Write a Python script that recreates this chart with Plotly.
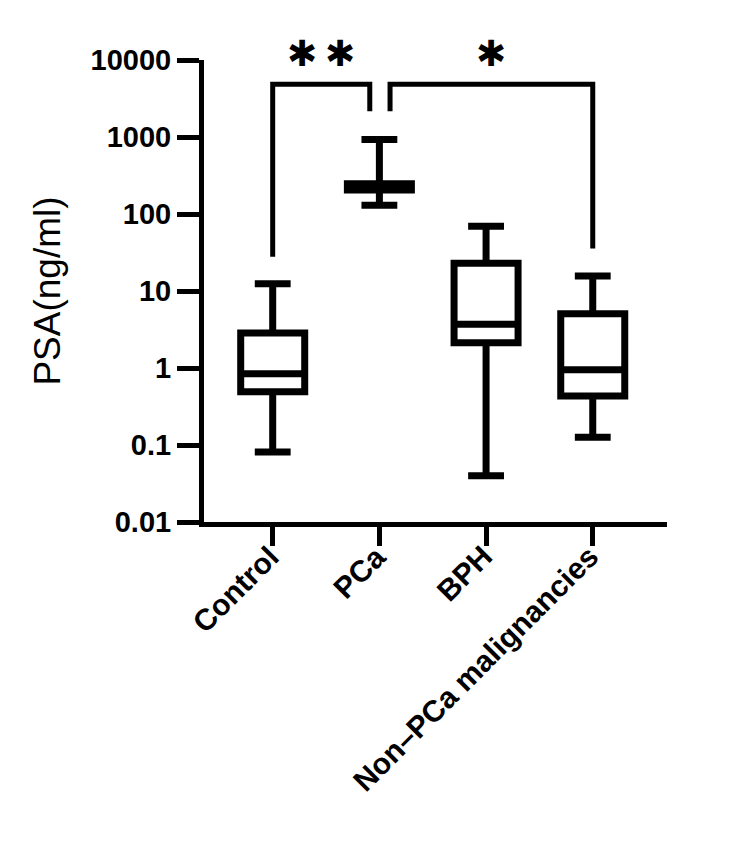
import plotly.graph_objects as go

# ---- data ----
categories = ["Control", "PCa", "BPH", "Non\u2013PCa malignancies"]
lower_whisker = [0.081, 130, 0.040, 0.126]
q1_values = [0.49, 205, 2.13, 0.433]
median_values = [0.84, 225, 3.69, 0.95]
q3_values = [2.84, 247, 23.0, 5.06]
upper_whisker = [12.4, 925, 69.5, 15.7]

y_tick_values = [0.01, 0.1, 1, 10, 100, 1000, 10000]
y_tick_labels = ["0.01", "0.1", "1", "10", "100", "1000", "10000"]

# significance brackets
sig_group_a = [0, 1]
sig_group_b = [1, 3]
sig_top = [4830, 4830]
sig_end_a = [27.8, 2154]
sig_end_b = [2154, 35.7]
sig_stars = [2, 1]
sig_offset_a = [0.0, 0.10]
sig_offset_b = [-0.09, 0.0]

fig = go.Figure()

for i, cat in enumerate(categories):
    fig.add_trace(go.Box(
        x=[i],
        q1=[q1_values[i]], median=[median_values[i]], q3=[q3_values[i]],
        lowerfence=[lower_whisker[i]], upperfence=[upper_whisker[i]],
        width=0.6, whiskerwidth=0.56,
        line=dict(color="black", width=7),
        fillcolor="white",
        boxpoints=False,
        showlegend=False,
        hoverinfo="skip",
    ))
    # rotated category label
    fig.add_annotation(
        x=i, y=0, xref="x", yref="paper",
        text=cat, showarrow=False, textangle=-45,
        xanchor="right", yanchor="top",
        xshift=15, yshift=-15,
        font=dict(family="Liberation Sans", size=30, color="black", weight="bold"),
    )

for k in range(len(sig_stars)):
    xa = sig_group_a[k] + sig_offset_a[k]
    xb = sig_group_b[k] + sig_offset_b[k]
    fig.add_trace(go.Scatter(
        x=[xa, xa, xb, xb],
        y=[sig_end_a[k], sig_top[k], sig_top[k], sig_end_b[k]],
        mode="lines",
        line=dict(color="black", width=5),
        showlegend=False, hoverinfo="skip",
    ))
    n = sig_stars[k]
    for j in range(n):
        fig.add_annotation(
            x=(xa + xb) / 2,
            y=1, xref="x", yref="paper",
            text="\u2731", showarrow=False,
            xshift=(j - (n - 1) / 2) * 38.5, yshift=7,
            font=dict(family="DejaVu Sans", size=36, color="black"),
            yanchor="middle", xanchor="center",
        )

fig.update_layout(
    width=750, height=845,
    margin=dict(l=204, r=83, t=60, b=323),
    paper_bgcolor="white", plot_bgcolor="white",
    font=dict(family="Liberation Sans", color="black"),
)

fig.update_xaxes(
    range=[-0.644, 3.696],
    tickmode="array", tickvals=list(range(len(categories))),
    showticklabels=False,
    showline=True, linewidth=5, linecolor="black",
    ticks="outside", ticklen=19, tickwidth=5, tickcolor="black",
    showgrid=False, zeroline=False,
)

fig.update_yaxes(
    type="log", range=[-2, 4],
    tickmode="array", tickvals=y_tick_values, ticktext=y_tick_labels,
    tickfont=dict(family="Liberation Sans", size=29, color="black", weight="bold"),
    showline=True, linewidth=5, linecolor="black",
    ticks="outside", ticklen=22, tickwidth=5, tickcolor="black",
    showgrid=False, zeroline=False,
    title=dict(text="PSA(ng/ml)", font=dict(family="Liberation Sans", size=37, color="black"), standoff=20),
)

fig.write_html("out.html")
